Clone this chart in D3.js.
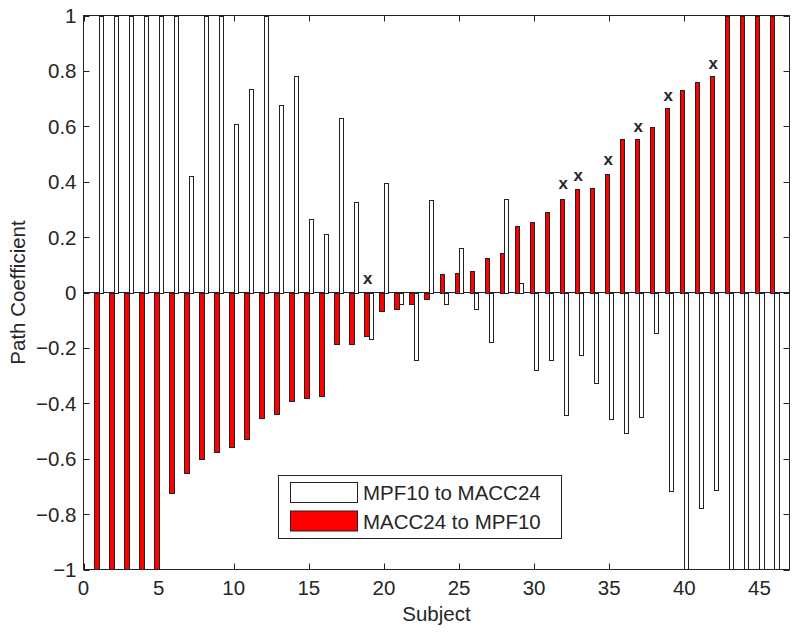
<!DOCTYPE html>
<html>
<head>
<meta charset="utf-8">
<script src="https://cdn.jsdelivr.net/npm/d3@7"></script>
<style>
  body { margin: 0; background: #fff; }
  svg { display: block; }
  text { font-family: "Liberation Sans", Arial, sans-serif; fill: #262626; }
</style>
</head>
<body>
<svg id="chart" width="800" height="634"></svg>
<script>
// ---- data ----
const subjects = d3.range(1, 47);
const seriesNames = ["MPF10 to MACC24", "MACC24 to MPF10"];
// MPF10 to MACC24 (white)
const mpfToMacc = [
  1, 1, 1, 1, 1, 1, 0.422, 1, 1, 0.607,
  0.734, 1, 0.676, 0.782, 0.265, 0.21, 0.631, 0.328, -0.167, 0.397,
  -0.041, -0.245, 0.333, -0.04, 0.162, -0.06, -0.177, 0.338, 0.034, -0.279,
  -0.244, -0.441, -0.226, -0.328, -0.456, -0.509, -0.45, -0.147, -0.718, -1,
  -0.778, -0.714, -1, -1, -1, -1
];
// MACC24 to MPF10 (red)
const maccToMpf = [
  -1, -1, -1, -1, -1, -0.725, -0.65, -0.602, -0.576, -0.556,
  -0.53, -0.453, -0.44, -0.39, -0.382, -0.372, -0.185, -0.185, -0.156, -0.068,
  -0.059, -0.042, -0.024, 0.065, 0.07, 0.079, 0.124, 0.142, 0.24, 0.255,
  0.29, 0.338, 0.372, 0.377, 0.427, 0.553, 0.553, 0.598, 0.665, 0.73,
  0.759, 0.782, 1, 1, 1, 1
];
// "x" markers
const markerSubjects = [19, 32, 33, 35, 37, 39, 42];
const markerValues = [0.048, 0.391, 0.42, 0.476, 0.595, 0.706, 0.824];
const xTicks = [0, 5, 10, 15, 20, 25, 30, 35, 40, 45];
const yTicks = [-1, -0.8, -0.6, -0.4, -0.2, 0, 0.2, 0.4, 0.6, 0.8, 1];

// ---- layout ----
const L = 83.5, R = 789.5, T = 15.5, B = 569.5;
const svg = d3.select("#chart");
const x = d3.scaleLinear().domain([0, 47]).range([L, R]);
const y = d3.scaleLinear().domain([-1, 1]).range([B, T]);
const fs = 20.5;

svg.append("defs").append("clipPath").attr("id", "clip")
  .append("rect").attr("x", L).attr("y", T).attr("width", R - L).attr("height", B - T);

const plot = svg.append("g").attr("clip-path", "url(#clip)");

// zero baseline
plot.append("line").attr("x1", L).attr("x2", R).attr("y1", y(0)).attr("y2", y(0))
  .attr("stroke", "#222").attr("stroke-width", 1);

function drawBars(vals, off0, off1, fill) {
  plot.selectAll(null).data(subjects).enter().append("rect")
    .attr("x", d => Math.round(x(d + off0)) + 0.5)
    .attr("width", d => Math.round(x(d + off1)) - Math.round(x(d + off0)))
    .attr("y", (d, i) => Math.round(y(Math.max(0, vals[i]))) + 0.5)
    .attr("height", (d, i) => Math.abs(Math.round(y(vals[i])) - Math.round(y(0))))
    .attr("fill", fill).attr("stroke", "#222").attr("stroke-width", 1);
}
drawBars(maccToMpf, -0.3, 0, "#ff0000");
drawBars(mpfToMacc, 0, 0.27, "#ffffff");

// markers
svg.selectAll(null).data(markerSubjects).enter().append("text")
  .attr("x", d => x(d - 0.07))
  .attr("y", (d, i) => y(markerValues[i]) + 4.5)
  .attr("text-anchor", "middle")
  .style("font-size", "17px").style("font-weight", "bold")
  .text("x");

// axes box
svg.append("rect").attr("x", L).attr("y", T).attr("width", R - L).attr("height", B - T)
  .attr("fill", "none").attr("stroke", "#222").attr("stroke-width", 1);

const tl = 6;
const axisG = svg.append("g");
xTicks.forEach(t => {
  const px = Math.round(x(t)) + 0.5;
  axisG.append("line").attr("x1", px).attr("x2", px).attr("y1", B).attr("y2", B - tl).attr("stroke", "#222");
  axisG.append("line").attr("x1", px).attr("x2", px).attr("y1", T).attr("y2", T + tl).attr("stroke", "#222");
  axisG.append("text").attr("x", x(t)).attr("y", B + 25.5).attr("text-anchor", "middle")
    .style("font-size", fs + "px").text(d3.format("d")(t));
});
yTicks.forEach(t => {
  const py = Math.round(y(t)) + 0.5;
  axisG.append("line").attr("x1", L).attr("x2", L + tl).attr("y1", py).attr("y2", py).attr("stroke", "#222");
  axisG.append("line").attr("x1", R).attr("x2", R - tl).attr("y1", py).attr("y2", py).attr("stroke", "#222");
  axisG.append("text").attr("x", L - 7).attr("y", y(t) + 7.5).attr("text-anchor", "end")
    .style("font-size", fs + "px").text(t === 0 ? "0" : d3.format("")(+t.toFixed(1)));
});

// axis labels
svg.append("text").attr("x", (L + R) / 2).attr("y", 621).attr("text-anchor", "middle")
  .style("font-size", fs + "px").text("Subject");
svg.append("text").attr("transform", `translate(25,${(T + B) / 2}) rotate(-90)`)
  .attr("text-anchor", "middle").style("font-size", fs + "px").text("Path Coefficient");

// legend
const lg = svg.append("g");
lg.append("rect").attr("x", 278.5).attr("y", 475.5).attr("width", 283).attr("height", 63)
  .attr("fill", "#fff").attr("stroke", "#222");
const legFills = ["#ffffff", "#ff0000"];
seriesNames.forEach((name, i) => {
  lg.append("rect").attr("x", 290.5).attr("y", 482.5 + i * 28.5).attr("width", 67).attr("height", 20)
    .attr("fill", legFills[i]).attr("stroke", "#222");
  lg.append("text").attr("x", 363).attr("y", 500 + i * 29).style("font-size", fs + "px").text(name);
});
</script>
</body>
</html>
